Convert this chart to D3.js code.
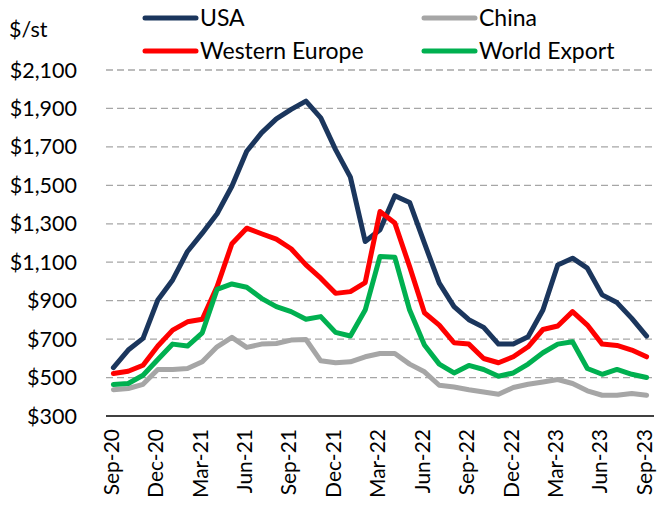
<!DOCTYPE html>
<html>
<head>
<meta charset="utf-8">
<script src="https://cdn.jsdelivr.net/npm/d3@7"></script>
<style>
  body { margin: 0; background: white; }
  svg { display: block; font-family: Lato, "Noto Sans", sans-serif; }
</style>
</head>
<body>
<svg id="chart"></svg>
<script>
// monthly prices, Sep-20 .. Sep-23 ($/st)
const months = d3.timeMonth.range(new Date(2020, 8, 1), new Date(2023, 9, 1));
const usa = [552, 643, 704, 904, 1008, 1156, 1251, 1352, 1495, 1677, 1773, 1846, 1895, 1938, 1851, 1686, 1543, 1208, 1269, 1446, 1411, 1199, 991, 869, 801, 761, 674, 674, 712, 851, 1086, 1121, 1069, 930, 890, 808, 716];
const china = [437, 443, 465, 542, 542, 547, 582, 660, 709, 657, 674, 677, 695, 698, 587, 577, 582, 608, 625, 625, 570, 530, 460, 451, 437, 425, 413, 448, 465, 477, 490, 469, 431, 408, 408, 417, 408];
const westernEurope = [521, 533, 564, 664, 747, 790, 803, 973, 1196, 1277, 1248, 1220, 1170, 1086, 1017, 938, 947, 994, 1364, 1304, 1077, 837, 773, 681, 674, 599, 577, 608, 660, 750, 768, 843, 773, 674, 667, 643, 608];
const worldExport = [464, 469, 512, 594, 674, 664, 733, 959, 987, 970, 912, 869, 843, 803, 817, 735, 716, 851, 1130, 1126, 851, 669, 570, 524, 563, 542, 507, 524, 570, 629, 674, 686, 547, 517, 542, 517, 500];
const yTicks = [300, 500, 700, 900, 1100, 1300, 1500, 1700, 1900, 2100];

const series = [
  { name: "China", values: china, color: "#a6a6a6" },
  { name: "USA", values: usa, color: "#1b365d" },
  { name: "Western Europe", values: westernEurope, color: "#ff0000" },
  { name: "World Export", values: worldExport, color: "#00b050" },
];

const width = 657;
const height = 508;
const margin = { top: 70, right: 3, bottom: 92, left: 106 };

const svg = d3.select("#chart").attr("width", width).attr("height", height);

const fmt = d3.timeFormat("%b-%y");

const x = d3
  .scalePoint()
  .domain(months.map(fmt))
  .range([margin.left, width - margin.right])
  .padding(0.5);

const y = d3
  .scaleLinear()
  .domain([300, 2100])
  .range([height - margin.bottom, margin.top]);

// gridlines
svg
  .selectAll(".grid")
  .data(yTicks.filter((d) => d > 300))
  .join("line")
  .attr("class", "grid")
  .attr("x1", margin.left)
  .attr("x2", width - margin.right)
  .attr("y1", (d) => y(d))
  .attr("y2", (d) => y(d))
  .attr("stroke", "#a6a6a6")
  .attr("stroke-width", 1.3)
  .attr("stroke-dasharray", "7,4");

// y labels
svg
  .selectAll(".yLabel")
  .data(yTicks)
  .join("text")
  .attr("class", "yLabel")
  .attr("x", 77)
  .attr("y", (d) => y(d))
  .attr("dy", "0.35em")
  .attr("text-anchor", "end")
  .attr("font-size", 21.5)
  .attr("fill", "#000")
  .text((d) => "$" + d3.format(",")(d));

// x axis line
svg
  .append("line")
  .attr("x1", margin.left)
  .attr("x2", width - margin.right)
  .attr("y1", y(300))
  .attr("y2", y(300))
  .attr("stroke", "#000")
  .attr("stroke-width", 1.3);

// x labels every 3 months
svg
  .selectAll(".xLabel")
  .data(months.filter((d, i) => i % 3 === 0).map(fmt))
  .join("text")
  .attr("class", "xLabel")
  .attr("transform", (d) => `translate(${x(d) - 1},${y(300) + 13}) rotate(-90)`)
  .attr("dy", "0.3em")
  .attr("text-anchor", "end")
  .attr("font-size", 21)
  .attr("fill", "#000")
  .text((d) => d);

const line = d3
  .line()
  .x((d, i) => x(fmt(months[i])))
  .y((d) => y(d));

svg
  .selectAll(".series")
  .data(series)
  .join("path")
  .attr("class", "series")
  .attr("d", (d) => line(d.values))
  .attr("fill", "none")
  .attr("stroke", (d) => d.color)
  .attr("stroke-width", 5)
  .attr("stroke-linejoin", "round")
  .attr("stroke-linecap", "round");

// unit label
svg
  .append("text")
  .attr("x", 9)
  .attr("y", 29)
  .attr("dy", "0.35em")
  .attr("font-size", 21.5)
  .text("$/st");

// legend, two rows
const legendItems = [
  { name: "USA", color: "#1b365d", lx: 143, ly: 18 },
  { name: "China", color: "#a6a6a6", lx: 422, ly: 18 },
  { name: "Western Europe", color: "#ff0000", lx: 143, ly: 51 },
  { name: "World Export", color: "#00b050", lx: 422, ly: 51 },
];

const legend = svg
  .selectAll(".legendItem")
  .data(legendItems)
  .join("g")
  .attr("class", "legendItem")
  .attr("transform", (d) => `translate(${d.lx},${d.ly})`);

legend
  .append("line")
  .attr("x1", 2)
  .attr("x2", 53)
  .attr("stroke", (d) => d.color)
  .attr("stroke-width", 5)
  .attr("stroke-linecap", "round");

legend
  .append("text")
  .attr("x", 57)
  .attr("dy", "0.35em")
  .attr("font-size", 23)
  .text((d) => d.name);
</script>
</body>
</html>
